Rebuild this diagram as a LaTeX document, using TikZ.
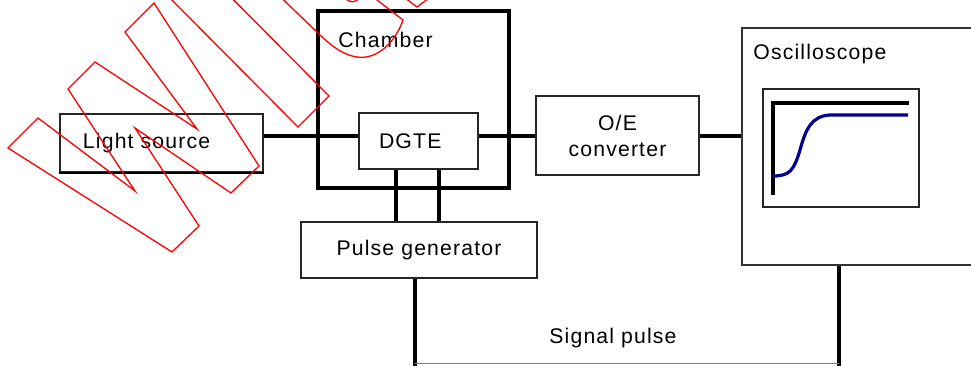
\documentclass[tikz,border=0pt]{standalone}
\usepackage{fontspec}
\setmainfont{Liberation Sans}[LetterSpace=5.5]
\definecolor{trace}{RGB}{0,0,140}

\begin{document}
\begin{tikzpicture}[x=0.5pt,y=-0.5pt,
    lbl/.style={inner sep=0pt,font=\fontsize{10.6}{13}\selectfont},
    box/.style={lbl,draw=black!85,line width=0.75pt},
    wire/.style={line width=1.8pt},
    wm/.style={red,line width=0.65pt}]
    \useasboundingbox (0,0) rectangle (971,365);
    \clip (0,0) rectangle (971,365);
    % 光源
    \node[box,minimum height=29pt,text width=78.5pt,align=left,inner xsep=11.5pt] (light) at (161.5,143) {Light source};
    \draw[line width=1.2pt] (light.south west) -- (light.south east);
    % 腔体和DGTE
    \node[draw,line width=1.8pt,minimum width=95.5pt,minimum height=88.5pt] (chamber) at (413.5,99.5) {};
    \node[lbl,anchor=base west] (chamberlabel) at (338,47) {Chamber};
    \node[box,minimum height=28pt,text width=39.5pt,align=left,inner xsep=10pt] (dgte) at (418.5,141) {DGTE};
    % 光电转换、脉冲发生器
    \node[box,minimum width=81.5pt,minimum height=39.5pt,align=center] (oe) at (617.5,135.5) {O/E\\converter};
    \node[box,minimum width=118pt,minimum height=28pt] (pulse) at (419,250) {Pulse generator};
    % 示波器
    \node[box,draw=black!80,minimum width=129pt,minimum height=118.5pt] (scope) at (871,146.5) {};
    \node[lbl,anchor=base west] (scopelabel) at (753,59) {Oscilloscope};
    \node[box,minimum width=78pt,minimum height=59pt] (screen) at (841,148) {};
    \draw[line width=1.8pt] (909,103) -- (773,103) -- (773,195);
    \draw[trace,line width=1.6pt] (773,176) .. controls (790,176) and (794,170) .. (800,150)
      .. controls (806,128) and (812,116) .. (830,115) -- (908,115);
    % 连线
    \coordinate (bus) at (0,136);
    \draw[wire] (light.east |- bus) -- (dgte.west |- bus);
    \draw[wire] (dgte.east |- bus) -- (oe.west |- bus);
    \draw[wire] (oe.east |- bus) -- (scope.west |- bus);
    \foreach \x in {396,439} {
      \coordinate (tap) at (\x,0);
      \draw[wire] (tap |- dgte.south) -- (tap |- pulse.north);
    }
    % 信号脉冲
    \coordinate (sigL) at (415,363.5);
    \coordinate (sigR) at (839,363.5);
    \draw[wire] (sigL |- pulse.south) -- ([yshift=-2pt]sigL);
    \draw[wire] (sigR |- scope.south) -- ([yshift=-2pt]sigR);
    \draw[gray,line width=0.5pt] (sigL) -- (sigR);
    \node[lbl,anchor=base west] (siglabel) at (549,343) {Signal pulse};
    % 水印
    \draw[wm] (38,118) -- (135,191) -- (68,89) -- (95,62) -- (197,129) -- (125,32) -- (154,3) -- (259,166)
      -- (231,193) -- (135,128) -- (199,226) -- (172,252) -- (8,148) -- cycle;
    \draw[wm] (150,-22) -- (298,127) -- (329,96) -- (181,-53);
    \draw[wm] (270,-13) -- (318,33) .. controls (335,50) and (350,59) .. (366,57)
      .. controls (385,54) and (398,35) .. (403,20) -- (364,-10);
    \draw[wm] (345,-2) .. controls (349,3) and (355,3) .. (360,-2);
    \draw[wm] (405,-2) -- (417,7) -- (429,-2);
  \end{tikzpicture}
\end{document}
